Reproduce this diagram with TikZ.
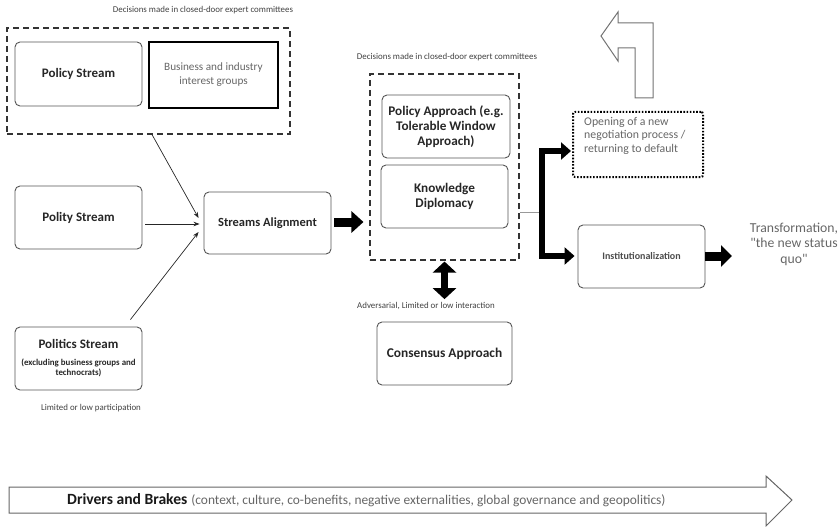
\documentclass[tikz,border=0pt]{standalone}
\usepackage{fontspec}
\setmainfont{Carlito}
\usetikzlibrary{arrows.meta,calc}
\newcommand\strq{\XeTeXglyph\XeTeXcharglyph"22\relax}
\definecolor{boxline}{HTML}{555555}
\definecolor{titletext}{HTML}{262626}
\definecolor{softtext}{HTML}{666666}
\definecolor{labeltext}{HTML}{404040}
\tikzset{
  x=1pt,y=-1pt,
  roundbox/.style={draw=boxline,line width=0.9pt,rounded corners=5pt,align=center,
    text=titletext,font=\bfseries\fontsize{13}{15}\selectfont,inner sep=2pt},
  dashbox/.style={draw=black!80,line width=1.1pt,dash pattern=on 6pt off 4pt},
  smalllabel/.style={text=labeltext,font=\fontsize{8.9}{10}\selectfont,inner sep=0pt},
  thinarrow/.style={draw=black!85,line width=0.7pt,-{Stealth[length=6pt,width=4.5pt]}},
  fatarrow/.style={draw=black,line width=9pt,-{Triangle[length=12pt,width=21pt]}},
  branch/.style={draw=black,line width=6pt,-{Triangle[length=10pt,width=17pt]}},
  outlinearrow/.style={draw=black!55,line width=1pt,fill=white},
}
\begin{document}
\begin{tikzpicture}
\useasboundingbox (0,0) rectangle (839,527);

% top-left committee group
\node[smalllabel] (lab1) at (203,10) {Decisions made in closed-door expert committees};
\node[dashbox,minimum width=283pt,minimum height=106pt] (dash1) at (148.5,81) {};
\node[roundbox,minimum width=127pt,minimum height=64pt] (policy) at (78.5,74) {Policy Stream};
\node[draw=black,line width=1.6pt,minimum width=129pt,minimum height=66pt,align=center,
  text=softtext,font=\fontsize{11.2}{14}\selectfont] (business) at (213.5,75)
  {Business and industry\\interest groups};

% other streams
\node[roundbox,minimum width=127pt,minimum height=63pt] (polity) at (78.5,217.5) {Polity Stream};
\node[roundbox,minimum width=127pt,minimum height=63pt] (politics) at (78.5,358.5)
  {Politics Stream\\[2pt]\fontsize{8.9}{10}\selectfont\begin{tabular}[t]{@{}c@{}}(excluding business groups and\\technocrats)\end{tabular}};
\node[smalllabel] (lab3) at (91,408) {Limited or low participation};

\node[roundbox,minimum width=127pt,minimum height=62pt,font=\bfseries\fontsize{12.5}{15}\selectfont] (sa) at (267.5,223) {Streams Alignment};

\draw[thinarrow] ([xshift=3.5pt]dash1.south) -- ([xshift=-5pt,yshift=5pt]sa.west);
\draw[thinarrow] ([xshift=3pt,yshift=-6.5pt]polity.east) -- ([xshift=-4pt,yshift=-1pt]sa.west);
\draw[thinarrow] ([xshift=-12pt,yshift=7pt]politics.north east) -- ([xshift=-5pt,yshift=-9pt]sa.west);

% central committee group
\node[smalllabel] (lab2) at (447,57) {Decisions made in closed-door expert committees};
\node[dashbox,minimum width=149pt,minimum height=186pt] (dash2) at (444.5,167) {};
\node[roundbox,minimum width=128pt,minimum height=63pt,font=\bfseries\fontsize{13.2}{15}\selectfont] (pa) at (446,126.5)
  {Policy Approach (e.g.\\Tolerable Window\\Approach)};
\node[roundbox,minimum width=127pt,minimum height=63pt,font=\bfseries\fontsize{13.2}{14.5}\selectfont] (kd) at (444.5,196.5)
  {Knowledge\\Diplomacy};

\path (sa.east -| dash2.west) coordinate (d2in);
\draw[fatarrow] ([xshift=3pt,yshift=1pt]sa.east) -- ([xshift=-6pt,yshift=1pt]d2in);

% consensus
\node[smalllabel] (lab4) at (426,306) {Adversarial, Limited or low interaction};
\node[roundbox,minimum width=135pt,minimum height=63pt,font=\bfseries\fontsize{13.4}{15}\selectfont] (cons) at (444.5,353.5)
  {Consensus Approach};
\path (lab4.north -| dash2.south) coordinate (dblend);
\draw[draw=black,line width=7pt,{Triangle[length=11pt,width=23pt]}-{Triangle[length=11pt,width=23pt]}]
  ([yshift=-1pt]dash2.south) -- ([yshift=3pt]dblend);

% right side
\node[draw=black,line width=2pt,dash pattern=on 1.6pt off 1.6pt,rounded corners=2pt,
  minimum width=130pt,minimum height=65pt] (open) at (638,144.5) {};
\node[anchor=north west,align=left,text=softtext,font=\fontsize{11.8}{13.5}\selectfont,inner sep=0pt] (opentext) at (584,117)
  {Opening of a new\\negotiation process /\\returning to default};
\node[roundbox,minimum width=127pt,minimum height=63pt,font=\bfseries\fontsize{10}{12}\selectfont,text=black!70] (inst) at (641.5,256.5)
  {Institutionalization};

\coordinate (junc) at (542,212);
\coordinate (jtop) at (542,151);
\coordinate (jbot) at (542,256);
\draw[draw=black!40,line width=0.8pt] (junc -| dash2.east) -- (junc);
\draw[draw=black,line width=6pt] ([yshift=3pt]jtop) -- ([yshift=-3pt]jbot);
\path (jtop -| open.west) coordinate (opin);
\path (jbot -| inst.west) coordinate (inin);
\draw[branch] ([xshift=-3pt]jtop) -- ([xshift=-1pt]opin);
\draw[branch] ([xshift=-3pt]jbot) -- ([xshift=-3pt]inin);

\coordinate (tout) at (732,256);
\path (inst.east |- tout) coordinate (inout);
\draw[fatarrow,-{Triangle[length=11pt,width=21pt]}] (inout) -- (tout);
\node[align=center,text=softtext,font=\fontsize{13.7}{15.5}\selectfont,inner sep=0pt] (trans) at (794,244)
  {Transformation,\\\strq the new status\\quo\strq};

% return arrow (up-left outline)
\draw[outlinearrow] (601,36) -- (618,12) -- (618,23) -- (653,23) -- (653,98) -- (635,98)
  -- (635,48) -- (618,48) -- (618,61) -- cycle;

% bottom arrow
\draw[outlinearrow,draw=black!60] (9,487) -- (766,487) -- (766,476) -- (792,500) -- (766,526)
  -- (766,513) -- (9,513) -- cycle;
\node[inner sep=0pt,anchor=west] (drivers) at (67,500)
  {\textbf{\color{black!90}\fontsize{15.6}{18}\selectfont Drivers and Brakes}\hspace{4pt}{\color{softtext}\fontsize{13.4}{16}\selectfont(context, culture, co-benefits, negative externalities, global governance and geopolitics)}};
\end{tikzpicture}
\end{document}
